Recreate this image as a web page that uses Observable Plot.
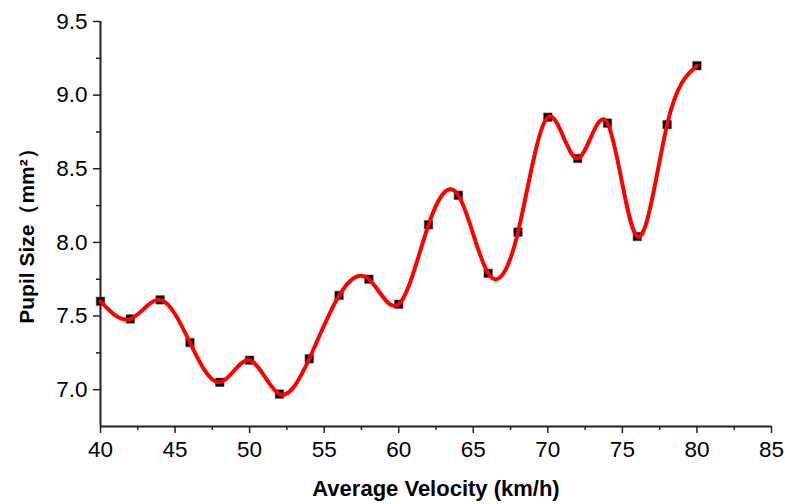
<!DOCTYPE html>
<html>
<head>
<meta charset="utf-8">
<script src="https://cdn.jsdelivr.net/npm/d3@7"></script>
<script src="https://cdn.jsdelivr.net/npm/@observablehq/plot@0.6"></script>
<style>
  body { margin: 0; background: #fff; }
</style>
</head>
<body>
<div id="chart"></div>
<script>
// Mean pupil size measured at each average driving velocity
const velocity = [40, 42, 44, 46, 48, 50, 52, 54, 56, 58, 60, 62, 64, 66, 68, 70, 72, 74, 76, 78, 80];
const pupilSize = [7.60, 7.48, 7.61, 7.32, 7.05, 7.20, 6.97, 7.21, 7.64, 7.75, 7.58, 8.12, 8.32, 7.79, 8.07, 8.85, 8.57, 8.81, 8.04, 8.80, 9.20];

// Axis ticks
const xMajorTicks = [40, 45, 50, 55, 60, 65, 70, 75, 80, 85];
const xMinorTicks = [42.5, 47.5, 52.5, 57.5, 62.5, 67.5, 72.5, 77.5, 82.5];
const yMajorTicks = [7.0, 7.5, 8.0, 8.5, 9.0, 9.5];
const yMinorTicks = [7.25, 7.75, 8.25, 8.75, 9.25];

const xTitle = "Average Velocity (km/h)";
const yTitle = "Pupil Size（mm²）";

const data = velocity.map((v, i) => ({velocity: v, size: pupilSize[i]}));

const font = "'Liberation Sans', Arial, Helvetica, sans-serif";
const axisColor = "#222";

const chart = Plot.plot({
  width: 785,
  height: 504,
  marginLeft: 100,
  marginRight: 14,
  marginTop: 21,
  marginBottom: 78,
  style: {fontFamily: font, background: "#fff", color: "#000"},
  x: {domain: [40, 85]},
  y: {domain: [6.75, 9.5]},
  marks: [
    // axis lines
    Plot.ruleY([6.75], {stroke: axisColor, strokeWidth: 2}),
    Plot.ruleX([40], {stroke: axisColor, strokeWidth: 2}),
    // x axis
    Plot.axisX({ticks: xMinorTicks, tickSize: 4, text: null, label: null, stroke: axisColor, strokeWidth: 1.5}),
    Plot.axisX({ticks: xMajorTicks, tickSize: 7, tickPadding: 8, fontSize: 22.5, label: null, stroke: axisColor, strokeWidth: 1.5, tickFormat: d3.format("d")}),
    // y axis
    Plot.axisY({ticks: yMinorTicks, tickSize: 4, text: null, label: null, stroke: axisColor, strokeWidth: 1.5}),
    Plot.axisY({ticks: yMajorTicks, tickSize: 7, tickPadding: 6, fontSize: 22.5, label: null, stroke: axisColor, strokeWidth: 1.5, tickFormat: d3.format(".1f")}),
    // axis titles
    Plot.text([xTitle], {frameAnchor: "bottom", dy: 69, fontSize: 22, fontWeight: "bold", fill: "#000"}),
    Plot.text([yTitle], {frameAnchor: "left", textAnchor: "middle", lineAnchor: "middle", dx: -73, dy: 7, rotate: -90, fontSize: 21, fontWeight: "bold", fill: "#000"}),
    // measurements and smoothed curve
    Plot.dot(data, {x: "velocity", y: "size", symbol: "square", r: 4.8, fill: "#000", stroke: "#555", strokeWidth: 0.6}),
    Plot.line(data, {x: "velocity", y: "size", curve: "natural", stroke: "#ff0000", strokeWidth: 4})
  ]
});

document.getElementById("chart").append(chart);
</script>
</body>
</html>
